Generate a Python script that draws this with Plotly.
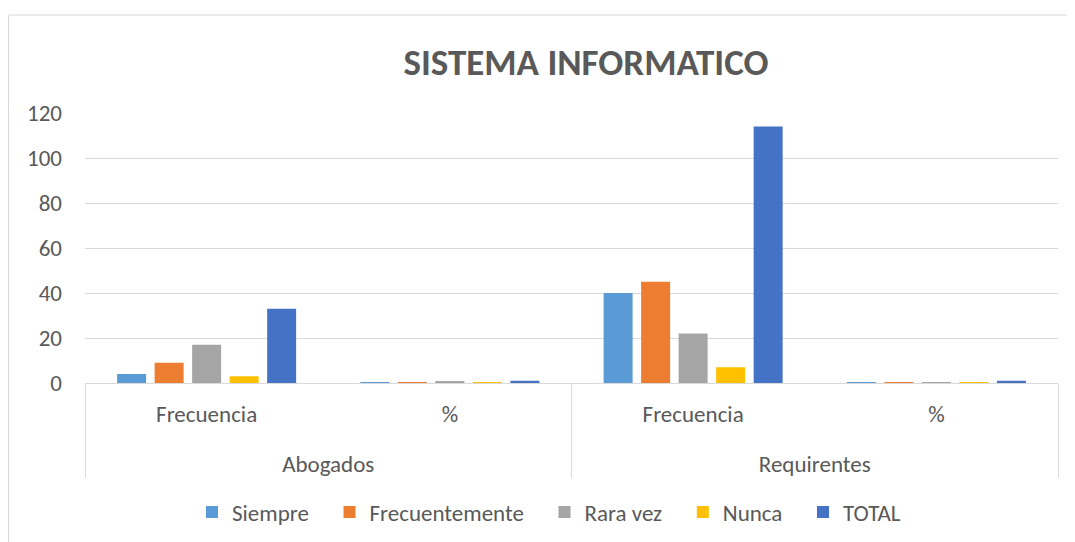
import plotly.graph_objects as go

groups = ["Abogados", "Abogados", "Requirentes", "Requirentes"]
subcats = ["Frecuencia", "%", "Frecuencia", "%"]

siempre = [4, 0.12, 40, 0.35]
frecuentemente = [9, 0.27, 45, 0.39]
rara_vez = [17, 0.52, 22, 0.19]
nunca = [3, 0.09, 7, 0.06]
total = [33, 1.00, 114, 1.00]

series = [
    ("Siempre", siempre, "#5B9BD5"),
    ("Frecuentemente", frecuentemente, "#ED7D31"),
    ("Rara vez", rara_vez, "#A5A5A5"),
    ("Nunca", nunca, "#FFC000"),
    ("TOTAL", total, "#4472C4"),
]

FONT = "Carlito, Lato, 'Open Sans', sans-serif"
W, H = 1067, 534
L, T, R, B = 77, 105, 17, 159
PW, PH = W - L - R, H - T - B

# inner labels get an empty second line so the outer level sits lower
subcat_labels = [s + "<br> " for s in subcats]
PAD = "\u00a0\u00a0\u00a0"

fig = go.Figure()
for i, (name, vals, color) in enumerate(series):
    fig.add_trace(go.Bar(
        x=[groups, subcat_labels], y=vals,
        name=name + (PAD if i < len(series) - 1 else ""),
        marker=dict(color=color, line=dict(width=0)),
    ))

fig.update_layout(
    width=W, height=H,
    barmode="group", bargap=0.229, bargroupgap=0.227,
    plot_bgcolor="white", paper_bgcolor="white",
    margin=dict(l=L, r=R, t=T, b=B, autoexpand=False),
    font=dict(family=FONT, size=23, color="#595959"),
    title=dict(text="<b>SISTEMA INFORMATICO</b>", x=(578 - L) / PW, xref="paper",
               xanchor="center", y=1 - 54 / H, yanchor="middle",
               font=dict(family=FONT, size=37, color="#595959")),
    legend=dict(orientation="h", x=(541 - L) / PW, xanchor="center", y=(375 - 504) / PH,
                yanchor="middle", font=dict(size=23, color="#595959"),
                itemwidth=30, traceorder="normal"),
    showlegend=True,
)
fig.update_yaxes(range=[0, 120], dtick=20, showgrid=True, gridcolor="#D9D9D9",
                 gridwidth=1, zeroline=False, showline=False, ticks="",
                 tickfont=dict(size=23, color="#595959"), ticklabelstandoff=22)
fig.update_xaxes(type="multicategory", showline=True, linecolor="#D9D9D9", linewidth=1,
                 showdividers=True, dividercolor="#D9D9D9", dividerwidth=1,
                 tickfont=dict(size=23, color="#595959"), ticks="",
                 ticklabelstandoff=10)

fig.add_shape(type="rect", xref="paper", yref="paper",
              x0=(0.5 - L) / PW, x1=(1100 - L) / PW,
              y0=(375 - 600) / PH, y1=(375 - 7) / PH,
              line=dict(color="#D9D9D9", width=1), layer="below")

fig.write_html("out.html")
